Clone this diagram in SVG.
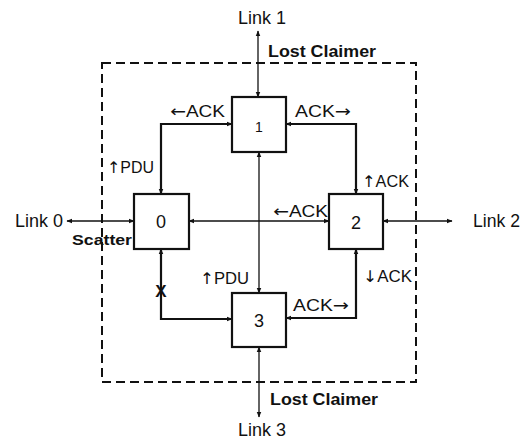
<svg xmlns="http://www.w3.org/2000/svg" width="528" height="442" viewBox="0 0 528 442">
<style>
.node{fill:#fff;stroke:#111;stroke-width:2.2}
.conn{fill:none;stroke:#111;stroke-width:2.2;marker-start:url(#ah);marker-end:url(#ah)}
.thin{fill:none;stroke:#111;stroke-width:1.3;marker-start:url(#ah);marker-end:url(#ah)}
.t{font-family:"Liberation Sans",Arial,sans-serif;fill:#111}
.lbl{font-size:16px}
.link{font-size:18px}
.b{font-weight:bold}
.num{font-size:18px;text-anchor:middle}
.ar{font-family:"DejaVu Sans",sans-serif}
</style>
<defs>
<marker id="ah" viewBox="0 0 10 10" refX="9" refY="5" markerWidth="6" markerHeight="6" markerUnits="userSpaceOnUse" orient="auto-start-reverse">
<path d="M0,1 L10,5 L0,9 Z" fill="#111"/>
</marker>
</defs>
<rect x="102" y="63" width="314" height="319" fill="none" stroke="#111" stroke-width="2" stroke-dasharray="9 5"/>
<g id="connectors">
<line class="thin" x1="258" y1="31" x2="258" y2="97"/>
<path class="conn" d="M232,124 H161 V194"/>
<path class="conn" d="M286,124 H356 V194"/>
<line class="thin" x1="259" y1="152" x2="259" y2="293"/>
<line class="thin" x1="189" y1="221" x2="329" y2="221"/>
<line class="thin" x1="67" y1="221" x2="134" y2="221"/>
<line class="thin" x1="383" y1="221" x2="452" y2="221"/>
<path class="conn" d="M232,319 H161 V249"/>
<path class="conn" d="M286,318 H356 V249"/>
<line class="thin" x1="259" y1="347" x2="259" y2="417"/>
<text class="t b" x="161" y="297" text-anchor="middle" style="font-size:17px">X</text>
</g>
<g id="node1"><rect class="node" x="232" y="97" width="54" height="55"/><text class="t num" x="259" y="132" style="font-size:14px">1</text></g>
<g id="node0"><rect class="node" x="134" y="194" width="55" height="55"/><text class="t num" x="161" y="228">0</text></g>
<g id="node2"><rect class="node" x="329" y="194" width="54" height="55"/><text class="t num" x="356" y="229">2</text></g>
<g id="node3"><rect class="node" x="232" y="293" width="54" height="54"/><text class="t num" x="259" y="327">3</text></g>
<g id="labels">
<text class="t link" x="238" y="24" textLength="48" lengthAdjust="spacingAndGlyphs">Link 1</text>
<text class="t lbl b" x="268" y="57" textLength="108" lengthAdjust="spacingAndGlyphs">Lost Claimer</text>
<text class="t lbl" x="170" y="117" textLength="55" lengthAdjust="spacingAndGlyphs"><tspan class="ar">←</tspan>ACK</text>
<text class="t lbl" x="295" y="117" textLength="56" lengthAdjust="spacingAndGlyphs">ACK<tspan class="ar">→</tspan></text>
<text class="t lbl" x="107" y="173" textLength="47" lengthAdjust="spacingAndGlyphs"><tspan class="ar">↑</tspan>PDU</text>
<text class="t lbl" x="362" y="187" textLength="47" lengthAdjust="spacingAndGlyphs"><tspan class="ar">↑</tspan>ACK</text>
<text class="t lbl" x="273" y="217" textLength="55" lengthAdjust="spacingAndGlyphs"><tspan class="ar">←</tspan>ACK</text>
<text class="t lbl" x="200" y="284" textLength="49" lengthAdjust="spacingAndGlyphs"><tspan class="ar">↑</tspan>PDU</text>
<text class="t lbl" x="363" y="282" textLength="49" lengthAdjust="spacingAndGlyphs"><tspan class="ar">↓</tspan>ACK</text>
<text class="t lbl" x="293" y="311" textLength="56" lengthAdjust="spacingAndGlyphs">ACK<tspan class="ar">→</tspan></text>
<text class="t link" x="15" y="227" textLength="48" lengthAdjust="spacingAndGlyphs">Link 0</text>
<text class="t b" x="72" y="245" textLength="60" lengthAdjust="spacingAndGlyphs" style="font-size:15px">Scatter</text>
<text class="t link" x="473" y="227" textLength="47" lengthAdjust="spacingAndGlyphs">Link 2</text>
<text class="t lbl b" x="270" y="405" textLength="108" lengthAdjust="spacingAndGlyphs">Lost Claimer</text>
<text class="t link" x="238" y="436" textLength="48" lengthAdjust="spacingAndGlyphs">Link 3</text>
</g>
</svg>
